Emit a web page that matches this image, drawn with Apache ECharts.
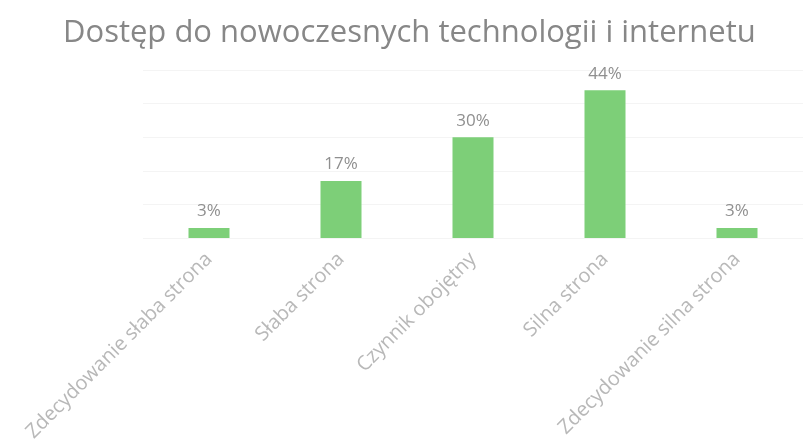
<!DOCTYPE html>
<html>
<head>
<meta charset="utf-8">
<script src="https://cdn.jsdelivr.net/npm/echarts@6/dist/echarts.min.js"></script>
<style>
    html, body { margin: 0; padding: 0; background: #fff; }
    #chart { width: 805px; height: 445px; }
</style>
</head>
<body>
<div id="chart"></div>
<script>
// dane
const categories = [
    'Zdecydowanie słaba strona',
    'Słaba strona',
    'Czynnik obojętny',
    'Silna strona',
    'Zdecydowanie silna strona'
];
const values = [3, 17, 30, 44, 3];
const titleText = 'Dostęp do nowoczesnych technologii i internetu';

const myChart = echarts.init(document.getElementById('chart'));

const option = {
    backgroundColor: '#fff',
    title: {
        text: titleText,
        left: 58,
        top: 13,
        textStyle: {
            color: '#878787',
            fontFamily: 'Open Sans',
            fontWeight: 'normal',
            fontSize: 31
        }
    },
    grid: {
        left: 143,
        right: 2,
        top: 70,
        bottom: 207
    },
    xAxis: {
        type: 'category',
        data: categories,
        axisLine: { show: false },
        axisTick: { show: false },
        axisLabel: {
            rotate: 45,
            margin: 18,
            color: '#b8b8b8',
            fontFamily: 'Open Sans',
            fontSize: 20
        }
    },
    yAxis: {
        type: 'value',
        min: 0,
        max: 50,
        interval: 10,
        axisLine: { show: false },
        axisTick: { show: false },
        axisLabel: { show: false },
        splitLine: {
            show: true,
            lineStyle: { color: '#f4f4f4', width: 1 }
        }
    },
    series: [
        {
            type: 'bar',
            data: values,
            barWidth: 41,
            itemStyle: { color: '#7dcf78' },
            label: {
                show: true,
                position: 'top',
                distance: 8,
                formatter: '{c}%',
                color: '#8f8f8f',
                fontFamily: 'Open Sans',
                fontSize: 17
            }
        }
    ]
};

myChart.setOption(option);
</script>
</body>
</html>
